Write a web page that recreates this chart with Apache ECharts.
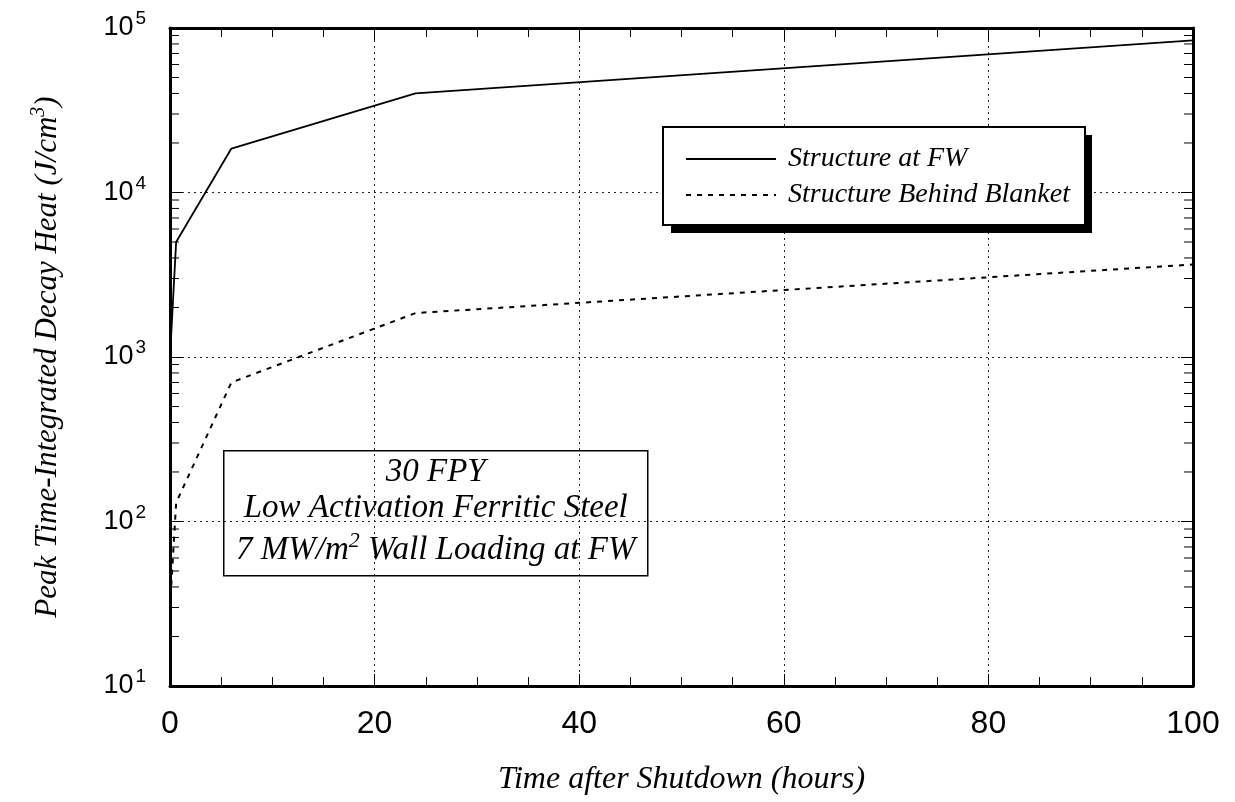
<!DOCTYPE html>
<html>
<head>
<meta charset="utf-8">
<script src="https://cdn.jsdelivr.net/npm/echarts@6/dist/echarts.min.js"></script>
<style>
  html, body { margin: 0; padding: 0; background: #ffffff; }
  #chart { width: 1235px; height: 802px; }
</style>
</head>
<body>
<div id="chart"></div>
<script>
// Peak time-integrated decay heat after shutdown (J/cm^3)
const timeHours = [0, 0.6, 6, 24, 100];
const heatStructureFW = [1000, 5000, 18500, 40000, 84000];
const heatBehindBlanket = [30, 130, 700, 1850, 3650];
const seriesNames = ['Structure at FW', 'Structure Behind Blanket'];
const xRange = [0, 100];
const xStep = 20;
const yRange = [10, 100000];
const noteLines = ['30 FPY', 'Low Activation Ferritic Steel', '7 MW/m{s|2} Wall Loading at FW'];
const xTitle = 'Time after Shutdown (hours)';
const yTitle = 'Peak Time-Integrated Decay Heat (J/cm{s|3})';

const SERIF = '"Liberation Serif", "Times New Roman", serif';
const SANS = '"Liberation Sans", Arial, Helvetica, sans-serif';

// log-scale minor tick values (2..9 x 10^k) inside the y range
const minorTickValues = [];
for (let d = yRange[0]; d < yRange[1]; d *= 10) {
  for (let m = 2; m <= 9; m++) minorTickValues.push(d * m);
}

const pairs = (ys) => timeHours.map((t, i) => [t, ys[i]]);

const chart = echarts.init(document.getElementById('chart'), null, { renderer: 'canvas' });

const axisLineStyle = { color: '#000', width: 3 };
const gridLineStyle = { color: '#222', width: 1, type: [2, 4] };
const tickStyle = { color: '#000', width: 1 };
const solidStyle = { color: '#000', width: 1.8, type: 'solid' };
const dashStyle = { color: '#000', width: 2, type: [5, 6] };

const option = {
  backgroundColor: '#ffffff',
  animation: false,
  grid: { left: 170, right: 42, top: 28, bottom: 116, containLabel: false },
  legend: {
    data: seriesNames,
    orient: 'vertical',
    left: 663,
    top: 127,
    padding: [18, 15, 16, 22],
    z: 10,
    itemWidth: 90,
    itemHeight: 14,
    itemGap: 8,
    selectedMode: false,
    backgroundColor: '#ffffff',
    borderColor: '#000',
    borderWidth: 2,
    borderRadius: 0,
    itemStyle: { opacity: 0, borderWidth: 0 },
    textStyle: {
      fontFamily: SERIF, fontStyle: 'italic', fontSize: 28, color: '#000',
      lineHeight: 28, padding: [0, 0, 0, 7]
    }
  },
  xAxis: [
    {
      type: 'value', position: 'bottom',
      min: xRange[0], max: xRange[1], interval: xStep,
      name: xTitle, nameLocation: 'middle', nameGap: 78,
      nameTextStyle: { fontFamily: SERIF, fontStyle: 'italic', fontSize: 32, color: '#000' },
      axisLine: { show: true, onZero: false, lineStyle: axisLineStyle },
      axisTick: { show: true, inside: true, length: 12, lineStyle: tickStyle },
      minorTick: { show: true, splitNumber: 4, length: 9, lineStyle: tickStyle },
      axisLabel: { fontFamily: SANS, fontSize: 32, color: '#000', margin: 22 },
      splitLine: { show: true, lineStyle: gridLineStyle }
    },
    {
      type: 'value', position: 'top',
      min: xRange[0], max: xRange[1], interval: xStep,
      axisLine: { show: true, onZero: false, lineStyle: axisLineStyle },
      axisTick: { show: true, inside: true, length: 12, lineStyle: tickStyle },
      minorTick: { show: true, splitNumber: 4, length: 9, lineStyle: tickStyle },
      axisLabel: { show: false },
      splitLine: { show: false }
    }
  ],
  yAxis: [
    {
      type: 'log', logBase: 10, position: 'left',
      min: yRange[0], max: yRange[1],
      name: yTitle, nameLocation: 'middle', nameGap: 103,
      nameTextStyle: {
        fontFamily: SERIF, fontStyle: 'italic', fontSize: 31, color: '#000',
        rich: { s: { fontFamily: SERIF, fontStyle: 'italic', fontSize: 20, padding: [0, 0, 18, 0] } }
      },
      axisLine: { show: true, onZero: false, lineStyle: axisLineStyle },
      axisTick: { show: true, inside: true, length: 12, lineStyle: tickStyle },
      axisLabel: {
        margin: 24,
        formatter: (v) => '{b|10}{s|' + Math.round(Math.log10(v)) + '}',
        rich: {
          b: { fontFamily: SANS, fontSize: 27, color: '#000' },
          s: { fontFamily: SANS, fontSize: 19, color: '#000', padding: [0, 0, 18, 2] }
        }
      },
      splitLine: { show: true, lineStyle: gridLineStyle }
    },
    {
      type: 'log', logBase: 10, position: 'right',
      min: yRange[0], max: yRange[1],
      axisLine: { show: true, onZero: false, lineStyle: axisLineStyle },
      axisTick: { show: true, inside: true, length: 12, lineStyle: tickStyle },
      axisLabel: { show: false },
      splitLine: { show: false }
    }
  ],
  series: [
    {
      name: seriesNames[0], type: 'line', data: pairs(heatStructureFW),
      symbol: 'none', smooth: false,
      lineStyle: solidStyle,
      itemStyle: { color: '#000' }
    },
    {
      name: seriesNames[1], type: 'line', data: pairs(heatBehindBlanket),
      symbol: 'none', smooth: false,
      lineStyle: dashStyle,
      itemStyle: { color: '#000' }
    },
    {
      // minor log ticks on the left and right frame edges
      name: 'minorTicks', type: 'custom', silent: true, clip: false,
      data: minorTickValues.map(v => [xRange[0], v]),
      renderItem: (params, api) => {
        const v = api.value(1);
        const l = api.coord([xRange[0], v]);
        const r = api.coord([xRange[1], v]);
        const st = { stroke: '#000', lineWidth: 1 };
        return {
          type: 'group',
          children: [
            { type: 'line', shape: { x1: l[0], y1: l[1], x2: l[0] + 9, y2: l[1] }, style: st },
            { type: 'line', shape: { x1: r[0], y1: r[1], x2: r[0] - 9, y2: r[1] }, style: st }
          ]
        };
      },
      z: 5
    }
  ],
  graphic: [
    {
      // solid drop shadow behind the key
      type: 'rect', left: 671, top: 135, z: 3,
      shape: { x: 0, y: 0, width: 421, height: 98 },
      style: { fill: '#000' }
    },
    {
      type: 'group', left: 223, top: 450, z: 50,
      children: [
        {
          type: 'rect', shape: { x: 0, y: 0, width: 424, height: 125 },
          style: { fill: '#ffffff', stroke: '#000', lineWidth: 1.5 }
        },
        {
          type: 'text', x: 212, y: 22,
          style: { text: noteLines[0], font: 'italic 33px ' + SERIF, fill: '#000', align: 'center', verticalAlign: 'middle' }
        },
        {
          type: 'text', x: 212, y: 58,
          style: { text: noteLines[1], font: 'italic 33px ' + SERIF, fill: '#000', align: 'center', verticalAlign: 'middle' }
        },
        {
          type: 'text', x: 212, y: 100,
          style: {
            text: noteLines[2], fontFamily: SERIF, fontStyle: 'italic', fontSize: 33, fill: '#000',
            align: 'center', verticalAlign: 'middle',
            rich: { s: { fontFamily: SERIF, fontStyle: 'italic', fontSize: 22, fill: '#000', padding: [0, 0, 20, 0] } }
          }
        }
      ]
    }
  ]
};

chart.setOption(option);
</script>
</body>
</html>
